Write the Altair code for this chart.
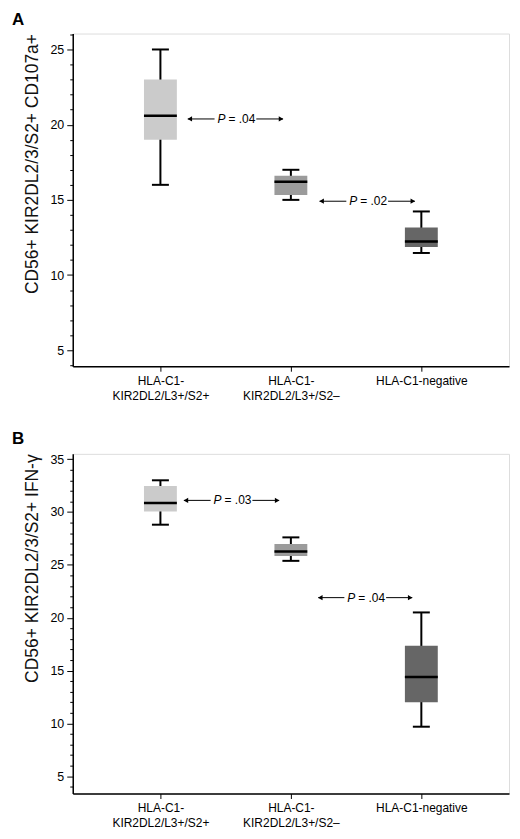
import altair as alt
import pandas as pd

FONT = "Liberation Sans"

groups = ["HLA-C1-|KIR2DL2/L3+/S2+", "HLA-C1-|KIR2DL2/L3+/S2\u2013", "HLA-C1-negative"]
box_colors = ["#cbcbcb", "#9b9b9b", "#666666"]

# panel A: CD107a+
a_lo = [16.0, 15.0, 11.47]
a_q1 = [19.0, 15.33, 11.87]
a_med = [20.6, 16.2, 12.24]
a_q3 = [23.0, 16.6, 13.17]
a_hi = [25.0, 17.0, 14.23]
a_arrow_y = [20.38, 14.91]
a_arrow_start = [0.21, 1.22]
a_arrow_end = [0.94, 1.95]
a_arrow_text = ["= .04", "= .02"]

# panel B: IFN-gamma
b_lo = [28.8, 25.38, 9.69]
b_q1 = [30.04, 25.85, 12.0]
b_med = [30.85, 26.26, 14.4]
b_q3 = [32.45, 26.98, 17.36]
b_hi = [33.0, 27.6, 20.5]
b_arrow_y = [31.1, 21.9]
b_arrow_start = [0.18, 1.21]
b_arrow_end = [0.91, 1.93]
b_arrow_text = ["= .03", "= .04"]

BOX_HALF = 0.126
CAP_HALF = 0.065
GAP = 0.16

label_js = "[" + ",".join("'" + g + "'" for g in groups) + "]"


def panel(lo, q1, med, q3, hi, ay, ax0, ax1, atxt, ydom, ytitle, letter, h):
    idx = list(range(len(groups)))
    box = pd.DataFrame({
        "idx": idx, "lo": lo, "q1": q1, "med": med, "q3": q3, "hi": hi,
        "color": box_colors,
    })
    box["bl"] = box["idx"] - BOX_HALF
    box["br"] = box["idx"] + BOX_HALF
    box["cl"] = box["idx"] - CAP_HALF
    box["cr"] = box["idx"] + CAP_HALF

    arr = pd.DataFrame({"y": ay, "x0": ax0, "x1": ax1, "txt": atxt})
    arr["c"] = (arr["x0"] + arr["x1"]) / 2
    arr["g0"] = arr["c"] - GAP
    arr["g1"] = arr["c"] + GAP

    xscale = alt.Scale(domain=[-0.672, 2.672], nice=False, zero=False)
    xaxis = alt.Axis(
        values=idx, title=None, grid=False,
        labelExpr="split(" + label_js + "[datum.value], '|')",
        labelFont=FONT, labelFontSize=12, labelColor="black",
        labelLineHeight=15, labelPadding=4,
        tickSize=5, tickColor="black", domainColor="black", domainWidth=1.5,
    )
    yscale = alt.Scale(domain=ydom, nice=False, zero=False)
    yaxis = alt.Axis(
        values=list(range(int(ydom[0]) + 1, int(ydom[1]) + 1)),
        labelExpr="datum.value % 5 === 0 ? datum.label : ''",
        tickSize={"condition": {"test": "datum.value % 5 === 0", "value": 6}, "value": 3},
        title=ytitle, titleAnchor="end", titleFont=FONT, titleFontSize=17.5,
        titleFontWeight="normal", titleColor="#111111", titlePadding=8,
        labelFont=FONT, labelFontSize=12.5, labelColor="black", labelPadding=3,
        tickColor="black", domainColor="black", domainWidth=1.5, grid=False,
    )

    def X(f):
        return alt.X(f + ":Q", scale=xscale, axis=xaxis)

    def Y(f):
        return alt.Y(f + ":Q", scale=yscale, axis=yaxis)

    base = alt.Chart(box)
    whisk = base.mark_rule(color="black", strokeWidth=2).encode(x=X("idx"), y=Y("lo"), y2="hi")
    cap_top = base.mark_rule(color="black", strokeWidth=2).encode(x=X("cl"), x2="cr", y=Y("hi"))
    cap_bot = base.mark_rule(color="black", strokeWidth=2).encode(x=X("cl"), x2="cr", y=Y("lo"))
    rect = base.mark_rect().encode(
        x=X("bl"), x2="br", y=Y("q1"), y2="q3",
        color=alt.Color("color:N", scale=None),
    )
    median = base.mark_rule(color="black", strokeWidth=2.5).encode(x=X("bl"), x2="br", y=Y("med"))

    ab = alt.Chart(arr)
    left_line = ab.mark_rule(color="black", strokeWidth=1).encode(x=X("x0"), x2="g0", y=Y("y"))
    right_line = ab.mark_rule(color="black", strokeWidth=1).encode(x=X("g1"), x2="x1", y=Y("y"))
    head_l = ab.mark_point(shape="triangle-left", filled=True, color="black", size=28,
                           opacity=1, xOffset=2).encode(x=X("x0"), y=Y("y"))
    head_r = ab.mark_point(shape="triangle-right", filled=True, color="black", size=28,
                           opacity=1, xOffset=-2).encode(x=X("x1"), y=Y("y"))
    p_txt = ab.mark_text(text="P", font=FONT, fontSize=12, fontStyle="italic",
                         align="right", baseline="middle", dx=-10, color="black").encode(
        x=X("c"), y=Y("y"))
    v_txt = ab.mark_text(font=FONT, fontSize=12, align="left", baseline="middle",
                         dx=-7, color="black").encode(x=X("c"), y=Y("y"), text="txt:N")

    return alt.layer(
        whisk, cap_top, cap_bot, rect, median,
        left_line, right_line, head_l, head_r, p_txt, v_txt,
    ).properties(
        width=438, height=h,
        title=alt.TitleParams(letter, anchor="start", frame="group", dx=-61, offset=5,
                              font=FONT, fontSize=17, fontWeight="bold", color="black"),
    )


top = panel(a_lo, a_q1, a_med, a_q3, a_hi, a_arrow_y, a_arrow_start, a_arrow_end,
            a_arrow_text, [3.94, 26.06], "CD56+ KIR2DL2/3/S2+ CD107a+", "A", 334)
bottom = panel(b_lo, b_q1, b_med, b_q3, b_hi, b_arrow_y, b_arrow_start, b_arrow_end,
               b_arrow_text, [3.37, 35.5], "CD56+ KIR2DL2/3/S2+ IFN-\u03b3", "B", 341)

chart = alt.vconcat(top, bottom, spacing=27).properties(
    padding={"left": 3, "top": 0, "right": 2, "bottom": 2},
).configure_view(strokeWidth=0).configure(background="white")

chart.save("out.html", embed_options={"renderer": "svg", "actions": False})
